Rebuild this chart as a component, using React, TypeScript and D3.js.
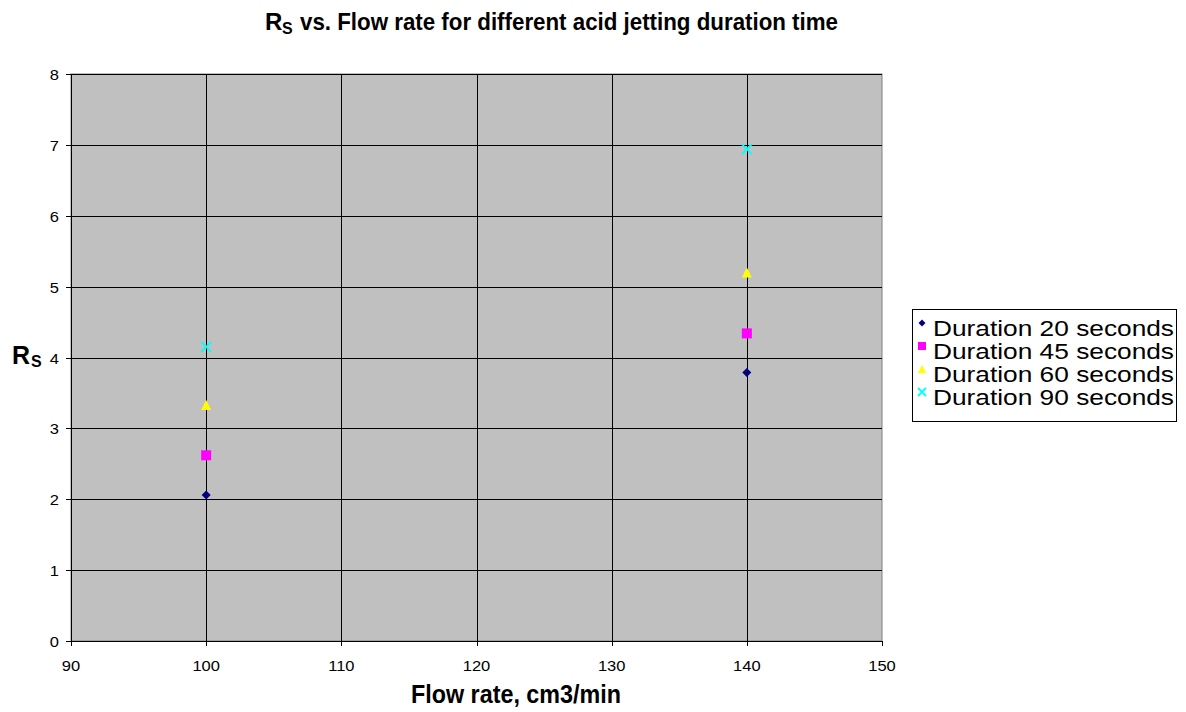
import React from "react";
import * as d3 from "d3";

const flowRates = [100, 140];
const series = [
  { name: "Duration 20 seconds", shape: "diamond", color: "#000080", values: [2.06, 3.79] },
  { name: "Duration 45 seconds", shape: "square", color: "#FF00FF", values: [2.62, 4.34] },
  { name: "Duration 60 seconds", shape: "triangle", color: "#FFFF00", values: [3.33, 5.2] },
  { name: "Duration 90 seconds", shape: "x", color: "#00FFFF", values: [4.15, 6.94] },
];
const xTicks = [90, 100, 110, 120, 130, 140, 150];
const yTicks = [0, 1, 2, 3, 4, 5, 6, 7, 8];

const W = 1186, H = 712;
const L = 71, R = 882, T = 74, B = 641;
const FONT = "'Liberation Sans', Arial, sans-serif";

function Marker({ shape, color, cx, cy, s }: { shape: string; color: string; cx: number; cy: number; s: number }) {
  if (shape === "diamond") {
    return <path d={`M${cx},${cy - s}L${cx + s},${cy}L${cx},${cy + s}L${cx - s},${cy}Z`} fill={color} />;
  }
  if (shape === "square") {
    return <rect x={cx - s} y={cy - s} width={2 * s} height={2 * s} fill={color} />;
  }
  if (shape === "triangle") {
    return <path d={`M${cx},${cy - s}L${cx + s},${cy + s}L${cx - s},${cy + s}Z`} fill={color} />;
  }
  return (
    <path d={`M${cx - s},${cy - s}L${cx + s},${cy + s}M${cx - s},${cy + s}L${cx + s},${cy - s}`} stroke={color} strokeWidth={1.8} fill="none" />
  );
}

export default function App() {
  const x = d3.scaleLinear().domain([90, 150]).range([L, R]);
  const y = d3.scaleLinear().domain([0, 8]).range([B, T]);
  return (
    <svg width={W} height={H} style={{ position: "absolute", left: 0, top: 0, background: "#fff" }} fontFamily={FONT}>
      <rect x={0} y={0} width={W} height={H} fill="#fff" />
      <rect x={L} y={T} width={R - L} height={B - T} fill="#C0C0C0" stroke="#808080" strokeWidth={1} />
      {yTicks.slice(1).map((t) => (
        <line key={"gy" + t} x1={L} x2={R} y1={Math.round(y(t)) + 0.5} y2={Math.round(y(t)) + 0.5} stroke="#000" strokeWidth={1} />
      ))}
      {xTicks.slice(1, -1).map((t) => (
        <line key={"gx" + t} x1={Math.round(x(t)) + 0.5} x2={Math.round(x(t)) + 0.5} y1={T} y2={B} stroke="#000" strokeWidth={1} />
      ))}
      <line x1={L + 0.5} x2={L + 0.5} y1={T} y2={B + 0.5} stroke="#000" />
      <line x1={L - 5} x2={R} y1={B + 0.5} y2={B + 0.5} stroke="#000" />
      {yTicks.map((t) => (
        <g key={"ty" + t}>
          <line x1={L - 5} x2={L} y1={Math.round(y(t)) + 0.5} y2={Math.round(y(t)) + 0.5} stroke="#000" />
          <g transform={`translate(${L - 12},${y(t) + 6}) scale(1.1,1)`}>
            <text textAnchor="end" fontSize={15}>{t}</text>
          </g>
        </g>
      ))}
      {xTicks.map((t) => (
        <g key={"tx" + t}>
          <line x1={Math.round(x(t)) + 0.5} x2={Math.round(x(t)) + 0.5} y1={B} y2={B + 5} stroke="#000" />
          <g transform={`translate(${x(t)},671) scale(1.1,1)`}>
            <text textAnchor="middle" fontSize={15}>{t}</text>
          </g>
        </g>
      ))}
      {series.map((s) =>
        s.values.map((v, i) => (
          <Marker key={s.name + i} shape={s.shape} color={s.color} cx={x(flowRates[i])} cy={y(v)} s={s.shape === "diamond" ? 4.5 : 5} />
        ))
      )}
      <text x={265} y={30} fontSize={24} fontWeight="bold">R</text>
      <text x={282} y={34} fontSize={16} fontWeight="bold">S</text>
      <text x={300} y={30} fontSize={24} fontWeight="bold" textLength={538} lengthAdjust="spacingAndGlyphs">vs. Flow rate for different acid jetting duration time</text>
      <text x={411} y={703} fontSize={25} fontWeight="bold" textLength={210} lengthAdjust="spacingAndGlyphs">Flow rate, cm3/min</text>
      <text x={12} y={364} fontSize={25} fontWeight="bold">R</text>
      <text x={31} y={367} fontSize={16} fontWeight="bold">S</text>
      <rect x={912.5} y={309.5} width={264} height={112} fill="#fff" stroke="#000" />
      {series.map((s, i) => (
        <g key={"lg" + s.name}>
          <Marker shape={s.shape} color={s.color} cx={922} cy={323 + i * 23} s={s.shape === "diamond" ? 3.5 : 4} />
          <text x={933} y={336 + i * 23} fontSize={22} textLength={241} lengthAdjust="spacingAndGlyphs">{s.name}</text>
        </g>
      ))}
    </svg>
  );
}
